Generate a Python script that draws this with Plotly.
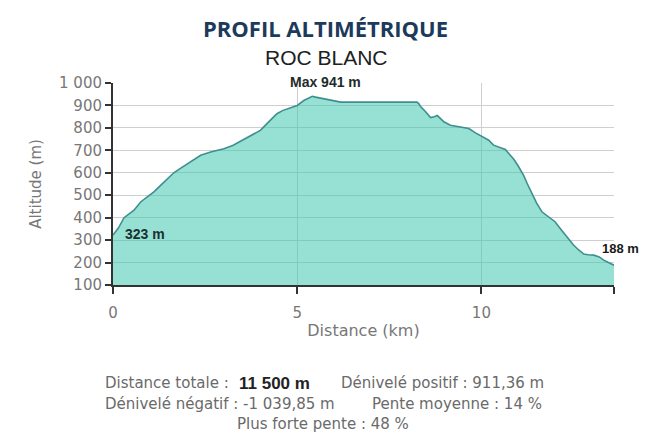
import plotly.graph_objects as go

# Data
distance_km = [0, 0.15, 0.3, 0.45, 0.57, 0.75, 0.9, 1.11, 1.3, 1.47, 1.65, 1.84, 2.1, 2.38, 2.65,
               3.01, 3.25, 3.46, 3.75, 4.0, 4.18, 4.3, 4.45, 4.6, 4.73, 5.0, 5.18, 5.3, 5.41, 5.5,
               5.63, 5.75, 5.9, 6.05, 6.18, 6.5, 7.0, 7.5, 8.0, 8.25, 8.3, 8.35, 8.48, 8.62, 8.72,
               8.8, 8.9, 8.98, 9.16, 9.43, 9.66, 9.84, 10.06, 10.2, 10.33, 10.5, 10.65, 10.75, 10.88,
               11.0, 11.15, 11.25, 11.37, 11.5, 11.65, 11.87, 12.0, 12.14, 12.3, 12.5, 12.65, 12.78,
               12.9, 13.05, 13.2, 13.32, 13.45, 13.6]
altitude_m = [323, 355, 400, 420, 433, 470, 490, 515, 545, 574, 600, 621, 650, 678, 693,
              707, 722, 740, 765, 789, 819, 840, 863, 877, 885, 900, 922, 932, 941, 937,
              933, 931, 927, 920, 915, 915, 915, 915, 915, 915, 908, 895, 873, 846, 850,
              855, 840, 827, 812, 804, 797, 778, 759, 745, 723, 712, 704, 685, 660,
              630, 587, 550, 506, 465, 425, 400, 382, 352, 320, 278, 255, 238,
              235, 233, 225, 211, 200, 188]

y_tick_vals = [100, 200, 300, 400, 500, 600, 700, 800, 900, 1000]
y_tick_text = ["100", "200", "300", "400", "500", "600", "700", "800", "900", "1 000"]
x_tick_vals = [0, 5, 10, 13.6]
x_tick_text = ["0", "5", "10", ""]

title_main = "PROFIL ALTIMÉTRIQUE"
title_sub = "ROC BLANC"
label_max = "Max 941 m"
label_start = "323 m"
label_end = "188 m"

GRAY = "#777777"
VERD = "DejaVu Sans"

# page has an 8px body margin: figure is laid out in page pixels minus 8
OFF = 8
PL, PR, PT, PB = 113, 614, 83, 285  # plot area in page pixels


def px(x):
    return (x - PL) / (PR - PL)


def py(y):
    return (PB - y) / (PB - PT)


fig = go.Figure()
fig.add_trace(go.Scatter(
    x=distance_km, y=altitude_m, mode="lines",
    line=dict(color="#3f8e90", width=1.6),
    fill="tozeroy", fillcolor="rgba(64,200,175,0.55)",
    hoverinfo="skip", showlegend=False,
))

W, H = 650 - OFF, 433 - OFF
fig.update_layout(
    width=W, height=H,
    margin=dict(l=PL - OFF, r=W - (PR - OFF), t=PT - OFF, b=H - (PB - OFF), autoexpand=False),
    paper_bgcolor="white", plot_bgcolor="white",
    showlegend=False,
    xaxis=dict(
        range=[0, 13.6], tickvals=x_tick_vals, ticktext=x_tick_text,
        showline=True, linecolor="#333333", linewidth=2,
        ticks="outside", ticklen=7, tickwidth=2, tickcolor="#333333",
        showgrid=True, gridcolor="#cfcfcf", gridwidth=1,
        tickfont=dict(family=VERD, size=15, color=GRAY),
        ticklabelstandoff=6,
        title=dict(text="Distance (km)", font=dict(family=VERD, size=16, color=GRAY), standoff=4),
        zeroline=False, fixedrange=True,
    ),
    yaxis=dict(
        range=[100, 1000], tickvals=y_tick_vals, ticktext=y_tick_text,
        showline=True, linecolor="#333333", linewidth=2,
        ticks="outside", ticklen=6, tickwidth=2, tickcolor="#333333",
        showgrid=True, gridcolor="#cfcfcf", gridwidth=1,
        tickfont=dict(family=VERD, size=15, color=GRAY),
        title=dict(text="Altitude (m)", font=dict(family=VERD, size=15, color=GRAY), standoff=14),
        zeroline=False, fixedrange=True,
    ),
)

fig.add_annotation(text="<b>" + title_main + "</b>", xref="paper", yref="paper",
                   x=px(325), y=py(28), xanchor="center", yanchor="middle", showarrow=False,
                   font=dict(family="Open Sans", size=22, color="#1c3a5c"))
fig.add_annotation(text=title_sub, xref="paper", yref="paper",
                   x=px(326), y=py(58), xanchor="center", yanchor="middle", showarrow=False,
                   font=dict(family="Liberation Sans", size=21, color="#1a2222"))

fig.add_annotation(text="<b>" + label_max + "</b>", xref="paper", yref="paper",
                   x=px(325), y=py(82), yanchor="middle", xanchor="center", showarrow=False,
                   font=dict(family="Liberation Sans", size=14, color="#1e2b2b"))
fig.add_annotation(text="<b>" + label_start + "</b>", xref="paper", yref="paper",
                   x=px(123), y=py(234), yanchor="middle", xanchor="left", showarrow=False,
                   font=dict(family="Liberation Sans", size=14, color="#1a3030"))
fig.add_annotation(text="<b>" + label_end + "</b>", xref="paper", yref="paper",
                   x=px(600), y=py(248), yanchor="middle", xanchor="left", showarrow=False,
                   font=dict(family="Liberation Sans", size=13, color="#1a1a1a"))

TXT = "#6a6a6a"
segments = [
    ("Distance totale :", 103, 383, dict(family=VERD, size=15, color=TXT)),
    ("<b>11 500 m</b>", 237, 383, dict(family="Liberation Sans", size=17, color="#222222")),
    ("Dénivelé positif : 911,36 m", 339, 383, dict(family=VERD, size=15, color=TXT)),
    ("Dénivelé négatif : -1 039,85 m", 103, 404, dict(family=VERD, size=15, color=TXT)),
    ("Pente moyenne : 14 %", 370, 404, dict(family=VERD, size=15, color=TXT)),
    ("Plus forte pente : 48 %", 235, 424, dict(family=VERD, size=15, color=TXT)),
]
for txt, x0, y0, f in segments:
    fig.add_annotation(text=txt, xref="paper", yref="paper", x=px(x0), y=py(y0),
                       xanchor="left", yanchor="middle", showarrow=False, font=f)

fig.write_html("out.html")
